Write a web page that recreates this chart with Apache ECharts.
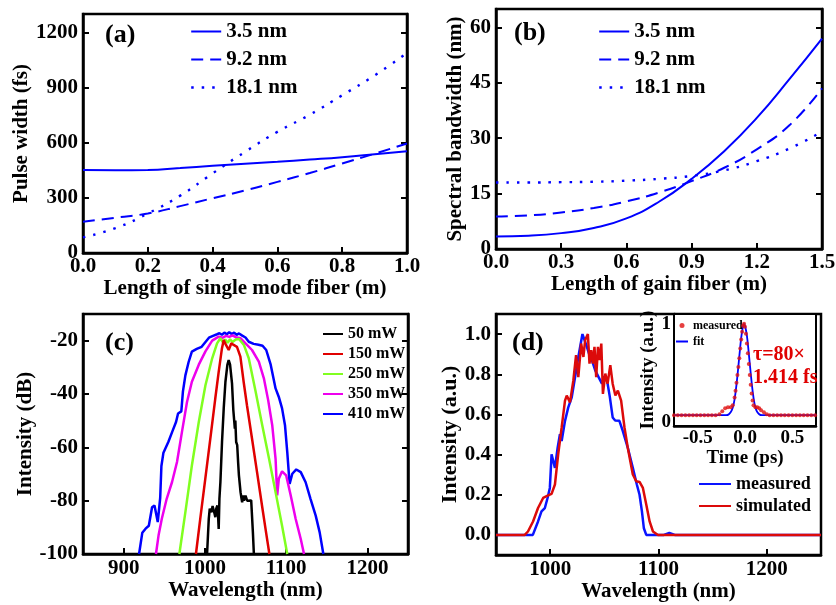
<!DOCTYPE html>
<html>
<head>
<meta charset="utf-8">
<title>Pulse width / spectral bandwidth / spectra</title>
<script src="https://cdn.jsdelivr.net/npm/echarts@6.0.0/dist/echarts.min.js"></script>
<style>
html, body { margin: 0; padding: 0; background: #fff; }
#main { width: 836px; height: 605px; }
</style>
</head>
<body>
<div id="main"></div>
<script>
// (a) pulse width vs length of single mode fiber
var smfLen = [0, 0.1, 0.2, 0.3, 0.4, 0.5, 0.6, 0.7, 0.8, 0.9, 1.0];
var pw35 = [451, 450, 451, 462, 474, 485, 496, 508, 521, 537, 554];
var pw92 = [170, 192, 215, 255, 298, 340, 387, 435, 487, 540, 596];
var pw181 = [85, 135, 215, 312, 433, 550, 659, 752, 858, 966, 1088];

// (b) spectral bandwidth vs length of gain fiber
var gainLen = [0, 0.15, 0.3, 0.45, 0.6, 0.75, 0.9, 1.05, 1.2, 1.35, 1.5];
var bw35 = [3.4, 3.6, 4.3, 5.7, 8.3, 12.8, 19, 26.5, 35.5, 46, 57];
var bw92 = [8.8, 9.1, 9.9, 11.1, 12.9, 15.3, 18.4, 22, 27, 33.5, 43.5];
var bw181 = [18, 18, 18.1, 18.2, 18.5, 19, 19.8, 21.3, 23.8, 27.2, 31.8];

// (c) spectra [nm, dB]
var spec50 = [[1002.7,-100],[1004.8,-86.8],[1006,-83],[1008,-84.3],[1009.5,-82],[1010.9,-82.5],[1012,-85],[1012.9,-86.2],
  [1014,-83],[1015.4,-81.8],[1016.3,-86],[1017,-90.6],[1017.9,-79.3],[1019.1,-73.1],[1021.1,-58],[1023.2,-45.4],
  [1025.3,-35.4],[1027.7,-29.1],[1029.3,-27.3],[1031,-29],[1033.4,-36],[1035,-46],[1036.9,-53],[1037.5,-50],
  [1038.5,-58],[1039.8,-59.2],[1041,-66],[1041.9,-70.5],[1043,-74],[1043.9,-76.8],[1045,-79],[1045.9,-80.6],
  [1047,-78],[1048,-80],[1050,-78.1],[1052,-80],[1054.1,-79.3],[1057,-79.9],[1059.1,-91.9],[1060.3,-100]];
var spec150 = [[989,-100],[994.3,-86.8],[1000.5,-71.8],[1006.7,-56.7],[1012.8,-41.7],[1017,-31.7],[1021,-22.9],
  [1023.2,-19.8],[1026,-21.6],[1029.3,-23.5],[1032.6,-21],[1035.4,-21.6],[1039.5,-22.3],[1043.7,-26],[1047.7,-35.4],
  [1051.8,-44.2],[1058,-56.7],[1064.2,-69.3],[1070.3,-81.8],[1075.3,-91.9],[1079.4,-100]];
var spec250 = [[968.6,-100],[976,-84.3],[984,-66.8],[992.5,-50.5],[1000.7,-36.7],[1009,-26.6],[1015,-21],[1019,-19.1],
  [1022,-20.5],[1025,-19.6],[1028,-20.8],[1031,-19.5],[1034,-20.5],[1038,-19.6],[1042,-19.4],[1048,-21.6],
  [1054,-26.6],[1062.5,-39.2],[1070.6,-51.7],[1079,-64.3],[1087,-76.8],[1095,-89.4],[1101.4,-100]];
var spec350 = [[939.8,-100],[943,-93],[947,-86.8],[953,-79.3],[959.6,-73],[965.7,-65.5],[971.8,-54.2],[978,-43],
  [984,-35.4],[992.5,-29],[1000.7,-24],[1009,-20],[1017,-18.5],[1022,-18.9],[1026,-18.2],[1030,-18.6],[1034,-18],
  [1038,-18.7],[1044,-19.1],[1050,-21],[1058,-23.5],[1066.4,-27.9],[1072.6,-34.1],[1077.9,-42.3],[1082.9,-51.7],
  [1087,-64.3],[1089,-78],[1091,-71.8],[1095,-69],[1100,-70.5],[1105.6,-78],[1111.7,-86.8],[1118,-94.4],[1122,-100]];
var spec410 = [[919,-100],[923,-92],[927,-90.5],[931,-89.4],[935,-82.5],[938,-81.8],[942,-88],[945,-79],[946.5,-67],
  [949,-62],[955,-58],[960,-54],[964.5,-50.5],[967,-47.3],[971,-46.5],[973,-39],[976,-33],[980,-28],[984,-24.1],
  [990,-23.1],[996,-22.3],[1001,-20.4],[1005,-18.9],[1010,-18.2],[1015,-17.6],[1018,-17.2],[1021,-17.8],[1024,-17],
  [1027,-17.6],[1030,-16.8],[1033,-17.5],[1036,-17],[1039,-17.8],[1042,-17.3],[1046,-18.1],[1050,-18.8],[1054,-20.4],
  [1060,-21.2],[1066,-21.5],[1071,-21.9],[1075.5,-23.5],[1081,-29],[1087,-37.9],[1091,-41.1],[1095,-45.4],
  [1098.6,-51.7],[1101.4,-61.8],[1104.3,-73.7],[1107.6,-69.9],[1112.5,-68.3],[1118,-69.3],[1124,-73.1],
  [1130,-79.3],[1136.4,-85.6],[1141.3,-91.9],[1145.8,-100]];

// (d) measured / simulated spectrum [nm, a.u.]
var specMeas = [[950,0],[984,0],[988.8,0.067],[992,0.117],[995.1,0.134],[997.6,0.184],[999.7,0.234],[1001.3,0.401],
  [1004.4,0.334],[1006.9,0.434],[1009,0.502],[1010.6,0.468],[1013.7,0.568],[1016.7,0.635],[1019.9,0.685],[1023,0.786],
  [1026,0.886],[1029.8,1.0],[1033.9,0.936],[1036,0.9],[1038.5,0.87],[1041.6,0.819],[1044.7,0.786],[1047.8,0.753],
  [1050,0.79],[1052.5,0.769],[1055,0.69],[1057.7,0.585],[1060,0.57],[1063.9,0.568],[1067,0.518],[1071.6,0.435],
  [1076.3,0.334],[1080,0.251],[1082.5,0.2],[1084.7,0.117],[1086.5,0.033],[1088.7,0],[1105,0],[1110,0.01],[1115,0],[1250,0]];
var specSim = [[950,0],[976.5,0],[979.5,0.017],[984.2,0.067],[988.8,0.134],[993.5,0.184],[998.1,0.197],[1001.3,0.204],
  [1004.4,0.251],[1007.4,0.401],[1010.6,0.535],[1013.7,0.669],[1015.3,0.694],[1018.3,0.66],[1021.4,0.769],[1023.9,0.895],
  [1026,0.786],[1028.6,0.953],[1030.7,0.886],[1032.3,0.97],[1034.8,1.0],[1036.3,0.853],[1037.9,0.92],[1039.4,0.853],
  [1040.9,0.936],[1042.5,0.786],[1044.1,0.936],[1045.6,0.87],[1047.2,0.953],[1048.7,0.702],[1050.9,0.803],[1053,0.753],
  [1055.5,0.845],[1057.7,0.753],[1060.2,0.694],[1062.5,0.719],[1065.5,0.669],[1068.6,0.535],[1071.6,0.435],
  [1076.3,0.301],[1079.4,0.267],[1082.5,0.264],[1085.6,0.234],[1088.7,0.151],[1091.8,0.067],[1094.9,0.017],
  [1099.5,0],[1250,0]];

// inset autocorrelation [ps, a.u.]
var acMeas = [[-0.75,0.07],[-0.71,0.07],[-0.67,0.07],[-0.63,0.07],[-0.59,0.07],[-0.55,0.07],[-0.51,0.07],[-0.47,0.07],
  [-0.43,0.07],[-0.39,0.07],[-0.35,0.07],[-0.31,0.07],[-0.27,0.08],[-0.24,0.11],[-0.21,0.14],[-0.18,0.15],[-0.15,0.15],
  [-0.13,0.17],[-0.11,0.25],[-0.1,0.32],[-0.09,0.4],[-0.08,0.48],[-0.07,0.56],[-0.06,0.65],[-0.05,0.75],[-0.04,0.84],
  [-0.03,0.92],[-0.02,0.98],[-0.01,1.0],[0,0.97],[0.01,0.9],[0.02,0.8],[0.03,0.7],[0.04,0.59],[0.05,0.48],[0.06,0.38],
  [0.07,0.29],[0.08,0.22],[0.09,0.17],[0.11,0.15],[0.13,0.15],[0.15,0.14],[0.17,0.12],[0.2,0.1],[0.23,0.08],
  [0.26,0.07],[0.3,0.07],[0.34,0.07],[0.38,0.07],[0.42,0.07],[0.46,0.07],[0.5,0.07],[0.54,0.07],[0.58,0.07],
  [0.62,0.07],[0.66,0.07],[0.7,0.07],[0.74,0.07]];
var acFit = [[-0.75,0.07],[-0.2,0.07],[-0.17,0.08],[-0.14,0.12],[-0.12,0.18],[-0.1,0.3],[-0.08,0.47],[-0.06,0.67],
  [-0.04,0.86],[-0.02,0.98],[-0.01,1.0],[0,0.98],[0.02,0.88],[0.04,0.7],[0.06,0.5],[0.08,0.32],[0.1,0.19],
  [0.12,0.12],[0.15,0.08],[0.18,0.07],[0.75,0.07]];

// tick values
var ticksAx = [0, 0.2, 0.4, 0.6, 0.8, 1.0];
var ticksAy = [0, 300, 600, 900, 1200];
var ticksBx = [0, 0.3, 0.6, 0.9, 1.2, 1.5];
var ticksBy = [0, 15, 30, 45, 60];
var ticksCx = [900, 1000, 1100, 1200];
var ticksCy = [-100, -80, -60, -40, -20];
var ticksDx = [1000, 1100, 1200];
var ticksDy = [0, 0.2, 0.4, 0.6, 0.8, 1.0];
var ticksIx = [-0.5, 0, 0.5];
var ticksIy = [0, 1];

var FONT = "'Liberation Serif', 'Times New Roman', serif";
var BLUE = '#0000ff';
var DASH = [12, 7];
var DOT = [2.5, 8];

function zip(xs, ys) {
    return xs.map(function(x, i) { return [x, ys[i]]; });
}
function fix1(v) { return v.toFixed(1); }
function plain(v) { return String(v); }

function makeAxis(gridIndex, pos, min, max, ticks, fs, fmt, margin, name, nameGap, nameSize) {
    return {
        type: 'value', gridIndex: gridIndex, position: pos, min: min, max: max,
        axisLine: { show: true, onZero: false, lineStyle: { color: '#000', width: 2.5 } },
        axisTick: { show: true, inside: true, length: 6, customValues: ticks, lineStyle: { color: '#000', width: 2 } },
        axisLabel: { show: fs > 0, customValues: ticks, formatter: fmt, color: '#000', fontFamily: FONT,
            fontWeight: 'bold', fontSize: fs || 12, margin: margin },
        splitLine: { show: false },
        name: name || '', nameLocation: 'middle', nameGap: nameGap || 0,
        nameTextStyle: { color: '#000', fontFamily: FONT, fontWeight: 'bold', fontSize: nameSize || 21 }
    };
}

function gridBox(l, t, w, h, extra) {
    var g = { left: l, top: t, width: w, height: h, show: true, borderColor: '#000', borderWidth: 2.5,
        backgroundColor: 'transparent', outerBoundsMode: 'none' };
    for (var k in extra) g[k] = extra[k];
    return g;
}

function lineSeries(name, xi, yi, data, color, width, type, smooth) {
    return {
        name: name, type: 'line', xAxisIndex: xi, yAxisIndex: yi, data: data, symbol: 'none',
        smooth: smooth || false, color: color,
        lineStyle: { color: color, width: width, type: type || 'solid' }
    };
}

// legend of lines only: itemHeight tiny so the icon's marker hides on the line
function legendBox(left, top, items, iw, fs, gap) {
    return {
        left: left, top: top, orient: 'vertical', padding: 0, itemWidth: iw, itemHeight: 2, itemGap: gap,
        selectedMode: false, data: items,
        itemStyle: { opacity: 0 },
        textStyle: { color: '#000', fontFamily: FONT, fontWeight: 'bold', fontSize: fs, lineHeight: fs }
    };
}

var chart = echarts.init(document.getElementById('main'), null, { renderer: 'canvas' });

var nmItems = [
    { name: '3.5 nm', lineStyle: { type: 'solid', width: 2 } },
    { name: '9.2 nm', lineStyle: { type: DASH, width: 2 } },
    { name: '18.1 nm', lineStyle: { type: DOT, width: 2.4 } }
];

var option = {
    animation: false,
    backgroundColor: '#fff',
    grid: [
        gridBox(83, 14, 324, 239),
        gridBox(496, 9, 326, 240),
        gridBox(83, 314, 325, 240),
        gridBox(496, 314, 325, 241),
        gridBox(674, 314, 142, 112, { backgroundColor: '#fff', borderWidth: 2, z: 3 })
    ],
    xAxis: [
        makeAxis(0, 'bottom', 0, 1, ticksAx, 21, fix1, 3, 'Length of single mode fiber (m)', 24),
        makeAxis(1, 'bottom', 0, 1.5, ticksBx, 21, fix1, 3, 'Length of gain fiber (m)', 13),
        makeAxis(2, 'bottom', 850, 1250, ticksCx, 21, plain, 4, 'Wavelength (nm)', 25),
        makeAxis(3, 'bottom', 950, 1250, ticksDx, 21, plain, 4, 'Wavelength (nm)', 19),
        makeAxis(4, 'bottom', -0.75, 0.75, ticksIx, 19, fix1, 3, 'Time (ps)', 18, 19)
    ],
    yAxis: [
        makeAxis(0, 'left', 0, 1300, ticksAy, 21, plain, 5, 'Pulse width (fs)', 51),
        makeAxis(1, 'left', 0, 65, ticksBy, 21, plain, 5, 'Spectral bandwidth (nm)', 30),
        makeAxis(2, 'left', -100, -10, ticksCy, 21, plain, 5, 'Intensity (dB)', 44),
        makeAxis(3, 'left', -0.1, 1.1, ticksDy, 21, fix1, 5, 'Intensity (a.u.)', 33, 22),
        makeAxis(4, 'left', -0.04, 1.1, ticksIy, 19, plain, 3, 'Intensity (a.u.)', 14, 19),
        makeAxis(0, 'right', 0, 1300, ticksAy, 0, plain, 5),
        makeAxis(1, 'right', 0, 65, ticksBy, 0, plain, 5),
        makeAxis(2, 'right', -100, -10, ticksCy, 0, plain, 5)
    ],
    legend: [
        legendBox(190, 21, nmItems, 30, 21, 7),
        legendBox(598, 21, nmItems, 30, 21, 7),
        legendBox(322, 326, ['50 mW', '150 mW', '250 mW', '350 mW', '410 mW'], 20, 16, 4),
        legendBox(698, 475, ['measured', 'simulated'], 32, 18, 4),
        {
            left: 675, top: 319, orient: 'vertical', padding: 0, itemWidth: 12, itemHeight: 5, itemGap: 3,
            selectedMode: false, z: 6,
            data: [{ name: 'measured ' }, { name: 'fit', itemStyle: { opacity: 0 } }],
            formatter: function(n) { return n.trim(); },
            textStyle: { color: '#000', fontFamily: FONT, fontWeight: 'bold', fontSize: 12, lineHeight: 13 }
        }
    ],
    series: [
        lineSeries('3.5 nm', 0, 0, zip(smfLen, pw35), BLUE, 2, 'solid', true),
        lineSeries('9.2 nm', 0, 0, zip(smfLen, pw92), BLUE, 2, DASH, true),
        lineSeries('18.1 nm', 0, 0, zip(smfLen, pw181), BLUE, 2.4, DOT, true),
        lineSeries('3.5 nm', 1, 1, zip(gainLen, bw35), BLUE, 2, 'solid', true),
        lineSeries('9.2 nm', 1, 1, zip(gainLen, bw92), BLUE, 2, DASH, true),
        lineSeries('18.1 nm', 1, 1, zip(gainLen, bw181), BLUE, 2.4, DOT, true),
        lineSeries('410 mW', 2, 2, spec410, BLUE, 2.5),
        lineSeries('350 mW', 2, 2, spec350, '#ee00ee', 2.5),
        lineSeries('250 mW', 2, 2, spec250, '#80ff20', 2.5),
        lineSeries('150 mW', 2, 2, spec150, '#e00000', 2.5),
        lineSeries('50 mW', 2, 2, spec50, '#000000', 2.5),
        lineSeries('measured', 3, 3, specMeas, '#0a14ff', 2.5),
        lineSeries('simulated', 3, 3, specSim, '#dc0a0a', 2.5),
        {
            name: 'fit', type: 'line', xAxisIndex: 4, yAxisIndex: 4, data: acFit, symbol: 'none', smooth: 0.4,
            color: BLUE, lineStyle: { color: BLUE, width: 1.8 }, z: 5
        },
        {
            name: 'measured ', type: 'scatter', xAxisIndex: 4, yAxisIndex: 4, data: acMeas, symbol: 'circle',
            symbolSize: 4, color: '#e01010', itemStyle: { color: '#e01010' }, z: 6
        }
    ],
    graphic: [
        { type: 'text', x: 105, y: 35, z: 10, style: { text: '(a)', fill: '#000', font: 'bold 26px ' + FONT, verticalAlign: 'middle' } },
        { type: 'text', x: 514, y: 33, z: 10, style: { text: '(b)', fill: '#000', font: 'bold 26px ' + FONT, verticalAlign: 'middle' } },
        { type: 'text', x: 105, y: 343, z: 10, style: { text: '(c)', fill: '#000', font: 'bold 26px ' + FONT, verticalAlign: 'middle' } },
        { type: 'text', x: 512, y: 343, z: 10, style: { text: '(d)', fill: '#000', font: 'bold 26px ' + FONT, verticalAlign: 'middle' } },
        { type: 'text', x: 753, y: 355, z: 10, style: { text: '\u03c4=80\u00d7', fill: '#e00000', font: 'bold 20px ' + FONT, verticalAlign: 'middle' } },
        { type: 'text', x: 753, y: 378, z: 10, style: { text: '1.414 fs', fill: '#e00000', font: 'bold 20px ' + FONT, verticalAlign: 'middle' } }
    ]
};

chart.setOption(option);
</script>
</body>
</html>
